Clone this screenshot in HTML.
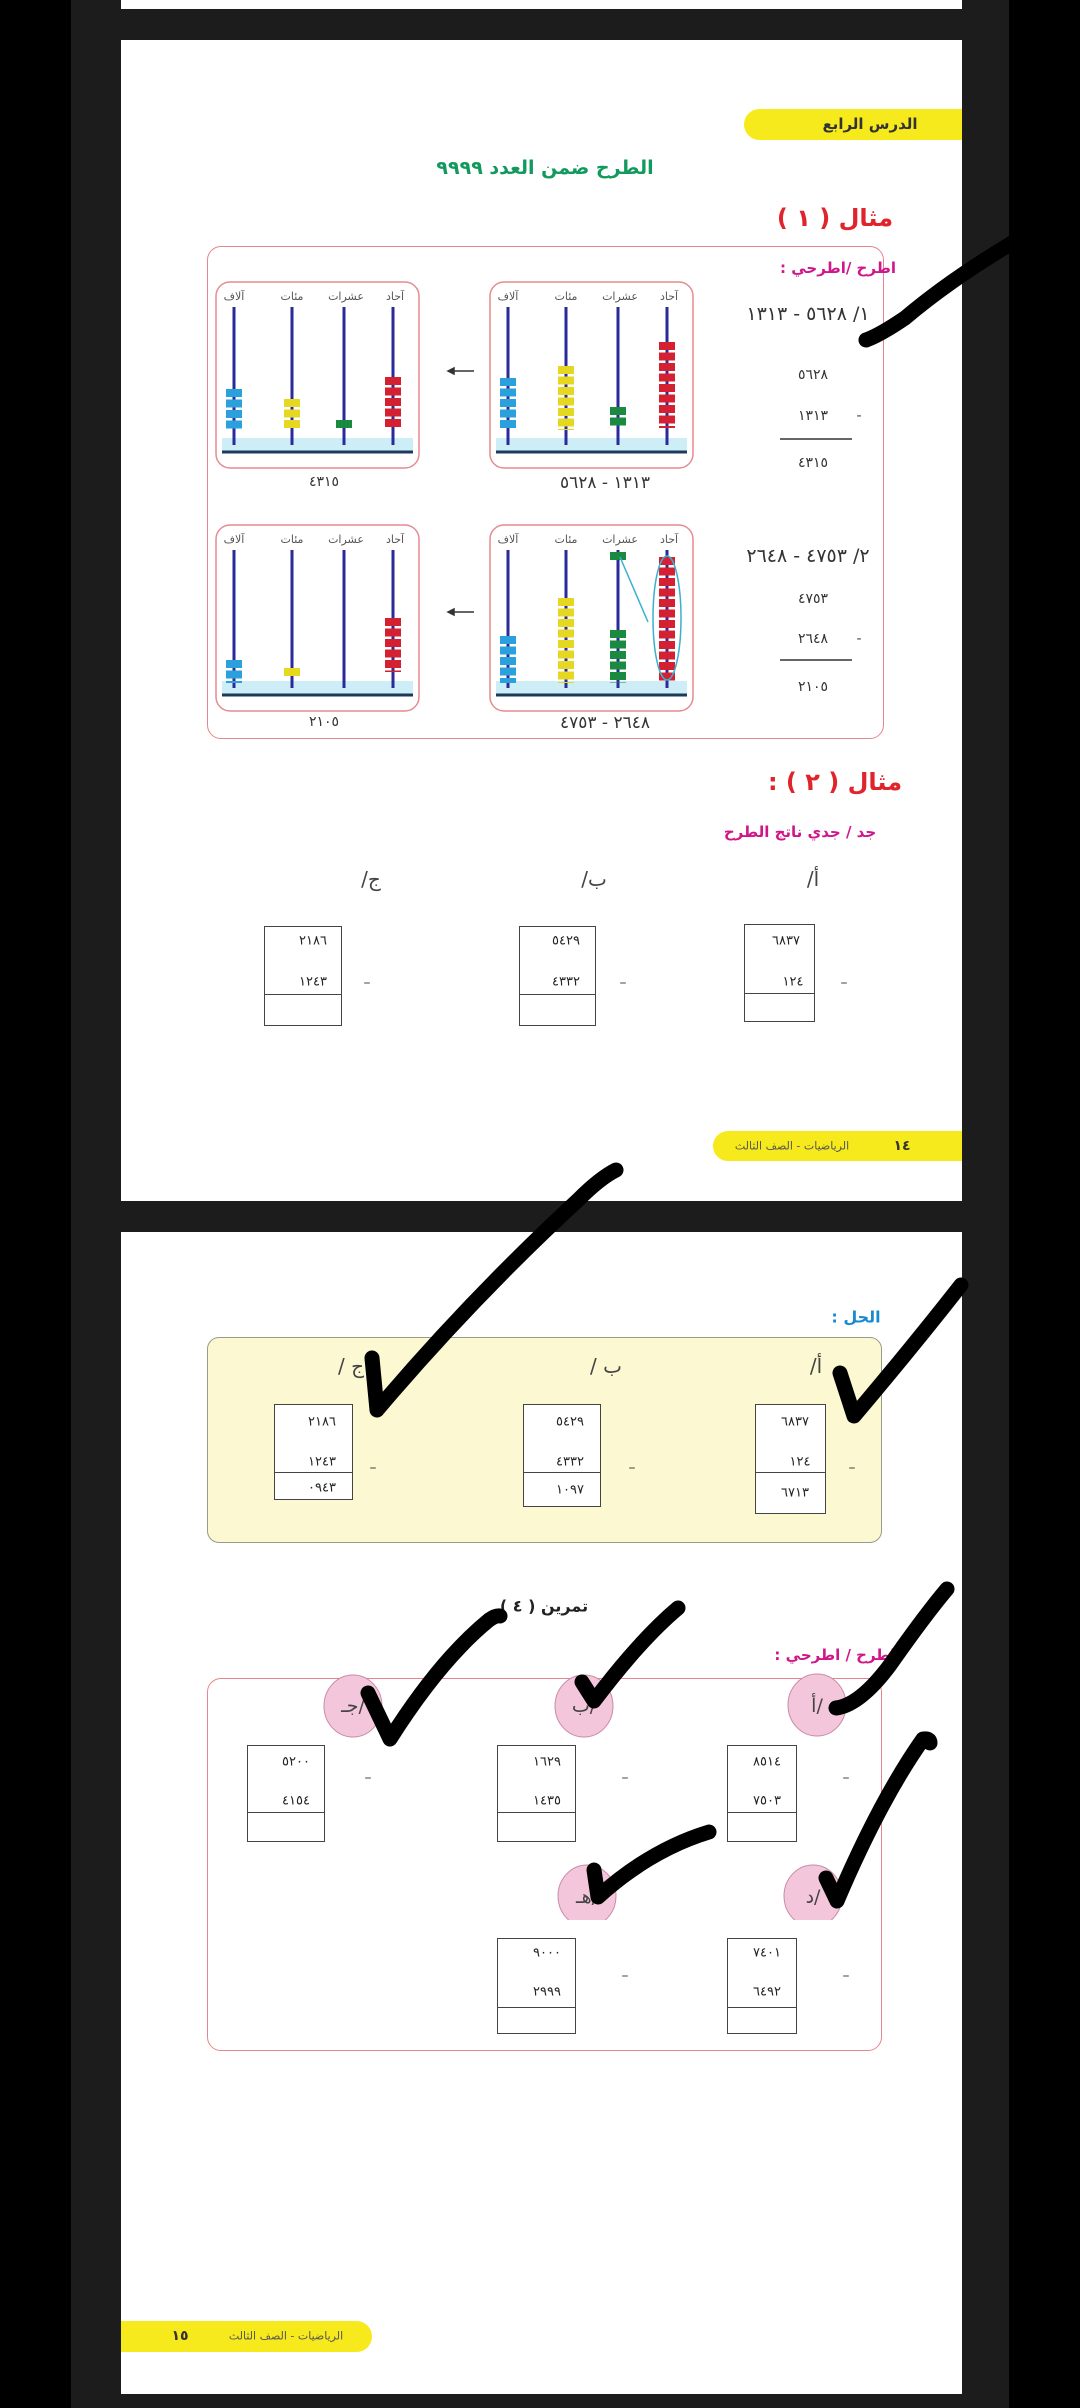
<!DOCTYPE html>
<html><head><meta charset="utf-8"><style>
*{margin:0;padding:0;box-sizing:border-box}
body{width:1080px;height:2408px;background:#000;position:relative;overflow:hidden;font-family:"DejaVu Sans","Liberation Sans",sans-serif}
.a{position:absolute}
.t{position:absolute;transform:translate(-50%,-50%);white-space:nowrap;direction:rtl}
.box{position:absolute;border:1.5px solid #444;background:#fff}
.box .s{position:absolute;left:0;right:0;border-top:1.5px solid #444}
.n{font-size:13px;color:#222}
.m{font-size:14px;color:#444}
</style></head><body>
<div class="a" style="left:71px;top:0;width:938px;height:2408px;background:#1c1c1c"></div>
<div class="a" style="left:121px;top:0;width:841px;height:9px;background:#fff"></div>
<div class="a" style="left:121px;top:40px;width:841px;height:1161px;background:#fff"></div>
<div class="a" style="left:121px;top:1232px;width:841px;height:1162px;background:#fff"></div>

<!-- page 1 -->
<div class="a" style="left:744px;top:109px;width:218px;height:31px;background:#f7ea1c;border-radius:16px 0 0 16px"></div>
<div class="t" style="left:870px;top:124px;font-size:15px;font-weight:bold;color:#333">الدرس الرابع</div>
<div class="t" style="left:545px;top:168px;font-size:19px;font-weight:bold;color:#129a5e">الطرح ضمن العدد ٩٩٩٩</div>
<div class="t" style="left:835px;top:218px;font-size:24px;font-weight:bold;color:#e0242c">مثال ( ١ )</div>
<div class="a" style="left:207px;top:246px;width:677px;height:493px;border:1.5px solid #e6868c;border-radius:14px"></div>
<div class="t" style="left:838px;top:268px;font-size:15px;font-weight:bold;color:#d0168a">اطرح /اطرحي :</div>

<svg class="a" style="left:0;top:0" width="1080" height="1200">
<defs>
<g id="frame">
<rect x="0" y="0" width="203" height="186" rx="14" fill="#fff" stroke="#e48c92" stroke-width="1.5"/>
<rect x="6" y="156" width="191" height="14" fill="#cdeef6"/>
<line x1="6" y1="170" x2="197" y2="170" stroke="#1e3a5a" stroke-width="3"/>
</g>
</defs>
<use href="#frame" x="490" y="282"/>
<use href="#frame" x="216" y="282"/>
<use href="#frame" x="490" y="525"/>
<use href="#frame" x="216" y="525"/>
<g font-size="11" fill="#555" text-anchor="middle" font-family="DejaVu Sans">
<text x="669" y="300">آحاد</text><text x="620" y="300">عشرات</text><text x="566" y="300">مئات</text><text x="508" y="300">آلاف</text>
<text x="395" y="300">آحاد</text><text x="346" y="300">عشرات</text><text x="292" y="300">مئات</text><text x="234" y="300">آلاف</text>
<text x="669" y="543">آحاد</text><text x="620" y="543">عشرات</text><text x="566" y="543">مئات</text><text x="508" y="543">آلاف</text>
<text x="395" y="543">آحاد</text><text x="346" y="543">عشرات</text><text x="292" y="543">مئات</text><text x="234" y="543">آلاف</text>
</g>
<g stroke="#2a2a9a" stroke-width="3">
<line x1="508" y1="307" x2="508" y2="445"/><line x1="566" y1="307" x2="566" y2="445"/><line x1="618" y1="307" x2="618" y2="445"/><line x1="667" y1="307" x2="667" y2="445"/>
<line x1="234" y1="307" x2="234" y2="445"/><line x1="292" y1="307" x2="292" y2="445"/><line x1="344" y1="307" x2="344" y2="445"/><line x1="393" y1="307" x2="393" y2="445"/>
<line x1="508" y1="550" x2="508" y2="688"/><line x1="566" y1="550" x2="566" y2="688"/><line x1="618" y1="550" x2="618" y2="688"/><line x1="667" y1="550" x2="667" y2="688"/>
<line x1="234" y1="550" x2="234" y2="688"/><line x1="292" y1="550" x2="292" y2="688"/><line x1="344" y1="550" x2="344" y2="688"/><line x1="393" y1="550" x2="393" y2="688"/>
</g>
<g stroke-width="16" stroke-dasharray="8 2.5">
<line x1="667" y1="342" x2="667" y2="428" stroke="#d42030"/>
<line x1="618" y1="407" x2="618" y2="428" stroke="#1a8a40"/>
<line x1="566" y1="366" x2="566" y2="430" stroke="#e6d820"/>
<line x1="508" y1="378" x2="508" y2="430" stroke="#2aa0dc"/>
<line x1="393" y1="377" x2="393" y2="428" stroke="#d42030"/>
<line x1="344" y1="420" x2="344" y2="430" stroke="#1a8a40"/>
<line x1="292" y1="399" x2="292" y2="430" stroke="#e6d820"/>
<line x1="234" y1="389" x2="234" y2="430" stroke="#2aa0dc"/>
<line x1="667" y1="557" x2="667" y2="683" stroke="#d42030"/>
<line x1="618" y1="630" x2="618" y2="683" stroke="#1a8a40"/>
<line x1="618" y1="552" x2="618" y2="562" stroke="#1a8a40"/>
<line x1="566" y1="598" x2="566" y2="683" stroke="#e6d820"/>
<line x1="508" y1="636" x2="508" y2="683" stroke="#2aa0dc"/>
<line x1="393" y1="618" x2="393" y2="672" stroke="#d42030"/>
<line x1="292" y1="668" x2="292" y2="678" stroke="#e6d820"/>
<line x1="234" y1="660" x2="234" y2="683" stroke="#2aa0dc"/>
</g>
<ellipse cx="667" cy="618" rx="14" ry="62" fill="none" stroke="#3ab0d0" stroke-width="1.5"/>
<line x1="620" y1="557" x2="648" y2="622" stroke="#3ab0d0" stroke-width="1.5"/>
<g stroke="#333" stroke-width="1.5" fill="#333">
<line x1="450" y1="371" x2="474" y2="371"/><path d="M448 371 l6 -3 v6z"/>
<line x1="450" y1="612" x2="474" y2="612"/><path d="M448 612 l6 -3 v6z"/>
<line x1="780" y1="439" x2="852" y2="439"/>
<line x1="780" y1="660" x2="852" y2="660"/>
</g>
</svg>
<div class="t" style="left:324px;top:482px;font-size:14px;color:#333">٤٣١٥</div>
<div class="t" style="left:605px;top:483px;font-size:17px;color:#333">١٣١٣ - ٥٦٢٨</div>
<div class="t" style="left:324px;top:722px;font-size:14px;color:#333">٢١٠٥</div>
<div class="t" style="left:605px;top:723px;font-size:17px;color:#333">٢٦٤٨ - ٤٧٥٣</div>
<div class="t" style="left:808px;top:314px;font-size:19px;color:#333">١/ ٥٦٢٨ - ١٣١٣</div>
<div class="t" style="left:813px;top:375px;font-size:14px;color:#333">٥٦٢٨</div>
<div class="t" style="left:813px;top:416px;font-size:14px;color:#333">١٣١٣</div>
<div class="t m" style="left:859px;top:416px">-</div>
<div class="t" style="left:813px;top:463px;font-size:14px;color:#333">٤٣١٥</div>
<div class="t" style="left:808px;top:556px;font-size:19px;color:#333">٢/ ٤٧٥٣ - ٢٦٤٨</div>
<div class="t" style="left:813px;top:599px;font-size:14px;color:#333">٤٧٥٣</div>
<div class="t" style="left:813px;top:639px;font-size:14px;color:#333">٢٦٤٨</div>
<div class="t m" style="left:859px;top:639px">-</div>
<div class="t" style="left:813px;top:687px;font-size:14px;color:#333">٢١٠٥</div>

<div class="t" style="left:835px;top:782px;font-size:24px;font-weight:bold;color:#e0242c">مثال ( ٢ ) :</div>
<div class="t" style="left:800px;top:832px;font-size:15px;font-weight:bold;color:#d0168a">جد / جدي ناتج الطرح</div>
<div class="t" style="left:813px;top:879px;font-size:20px;color:#444">أ/</div>
<div class="t" style="left:594px;top:879px;font-size:20px;color:#444">ب/</div>
<div class="t" style="left:371px;top:879px;font-size:20px;color:#444">ج/</div>
<div class="box" style="left:744px;top:924px;width:71px;height:98px"><div class="s" style="top:68px"></div></div>
<div class="box" style="left:519px;top:926px;width:77px;height:100px"><div class="s" style="top:67px"></div></div>
<div class="box" style="left:264px;top:926px;width:78px;height:100px"><div class="s" style="top:67px"></div></div>
<div class="t n" style="left:786px;top:941px">٦٨٣٧</div><div class="t n" style="left:793px;top:982px">١٢٤</div>
<div class="t n" style="left:566px;top:941px">٥٤٢٩</div><div class="t n" style="left:566px;top:982px">٤٣٣٢</div>
<div class="t n" style="left:313px;top:941px">٢١٨٦</div><div class="t n" style="left:313px;top:982px">١٢٤٣</div>
<div class="t m" style="left:844px;top:983px">–</div><div class="t m" style="left:623px;top:983px">–</div><div class="t m" style="left:367px;top:983px">–</div>

<div class="a" style="left:713px;top:1131px;width:249px;height:30px;background:#f7ea1c;border-radius:15px 0 0 15px"></div>
<div class="t" style="left:902px;top:1146px;font-size:14px;font-weight:bold;color:#333">١٤</div>
<div class="t" style="left:792px;top:1146px;font-size:11px;color:#555">الرياضيات - الصف الثالث</div>

<!-- page 2 -->
<div class="t" style="left:856px;top:1317px;font-size:16px;font-weight:bold;color:#1a8ad0">الحل :</div>
<div class="a" style="left:207px;top:1337px;width:675px;height:206px;background:#fbf8d2;border:1.5px solid #9a9a8a;border-radius:12px"></div>
<div class="t" style="left:816px;top:1366px;font-size:20px;color:#444">أ/</div>
<div class="t" style="left:606px;top:1366px;font-size:20px;color:#444">ب /</div>
<div class="t" style="left:351px;top:1366px;font-size:20px;color:#444">ج /</div>
<div class="box" style="left:755px;top:1404px;width:71px;height:110px"><div class="s" style="top:67px"></div></div>
<div class="box" style="left:523px;top:1404px;width:78px;height:103px"><div class="s" style="top:67px"></div></div>
<div class="box" style="left:274px;top:1404px;width:79px;height:96px"><div class="s" style="top:67px"></div></div>
<div class="t n" style="left:795px;top:1422px">٦٨٣٧</div><div class="t n" style="left:800px;top:1462px">١٢٤</div><div class="t n" style="left:795px;top:1493px">٦٧١٣</div>
<div class="t n" style="left:570px;top:1422px">٥٤٢٩</div><div class="t n" style="left:570px;top:1462px">٤٣٣٢</div><div class="t n" style="left:570px;top:1490px">١٠٩٧</div>
<div class="t n" style="left:322px;top:1422px">٢١٨٦</div><div class="t n" style="left:322px;top:1462px">١٢٤٣</div><div class="t n" style="left:322px;top:1488px">٠٩٤٣</div>
<div class="t m" style="left:852px;top:1468px">–</div><div class="t m" style="left:632px;top:1468px">–</div><div class="t m" style="left:373px;top:1468px">–</div>

<div class="t" style="left:544px;top:1606px;font-size:16px;font-weight:bold;color:#222">تمرين ( ٤ )</div>
<div class="t" style="left:835px;top:1655px;font-size:15px;font-weight:bold;color:#d0168a">اطرح / اطرحي :</div>
<div class="a" style="left:207px;top:1678px;width:675px;height:373px;border:1.5px solid #e6868c;border-radius:14px"></div>
<svg class="a" style="left:0;top:1600px" width="1080" height="320">
<g fill="#f4c6dc" stroke="#c88aa8" stroke-width="1">
<ellipse cx="817" cy="105" rx="29" ry="31"/><ellipse cx="584" cy="106" rx="29" ry="31"/><ellipse cx="353" cy="106" rx="29" ry="31"/>
<ellipse cx="813" cy="296" rx="29" ry="31"/><ellipse cx="587" cy="296" rx="29" ry="31"/>
</g>
<g font-size="19" fill="#444" text-anchor="middle" font-family="DejaVu Sans">
<text x="817" y="112">أ/</text><text x="584" y="112">ب/</text><text x="353" y="112">جـ/</text>
<text x="813" y="303">د/</text><text x="587" y="303">هـ/</text>
</g>
</svg>
<div class="box" style="left:727px;top:1745px;width:70px;height:97px"><div class="s" style="top:66px"></div></div>
<div class="box" style="left:497px;top:1745px;width:79px;height:97px"><div class="s" style="top:66px"></div></div>
<div class="box" style="left:247px;top:1745px;width:78px;height:97px"><div class="s" style="top:66px"></div></div>
<div class="t n" style="left:767px;top:1762px">٨٥١٤</div><div class="t n" style="left:767px;top:1801px">٧٥٠٣</div>
<div class="t n" style="left:547px;top:1762px">١٦٢٩</div><div class="t n" style="left:547px;top:1801px">١٤٣٥</div>
<div class="t n" style="left:296px;top:1762px">٥٢٠٠</div><div class="t n" style="left:296px;top:1801px">٤١٥٤</div>
<div class="t m" style="left:846px;top:1778px">–</div><div class="t m" style="left:625px;top:1778px">–</div><div class="t m" style="left:368px;top:1778px">–</div>
<div class="box" style="left:727px;top:1938px;width:70px;height:96px"><div class="s" style="top:68px"></div></div>
<div class="box" style="left:497px;top:1938px;width:79px;height:96px"><div class="s" style="top:68px"></div></div>
<div class="t n" style="left:767px;top:1953px">٧٤٠١</div><div class="t n" style="left:767px;top:1992px">٦٤٩٢</div>
<div class="t n" style="left:547px;top:1953px">٩٠٠٠</div><div class="t n" style="left:547px;top:1992px">٢٩٩٩</div>
<div class="t m" style="left:846px;top:1976px">–</div><div class="t m" style="left:625px;top:1976px">–</div>

<div class="a" style="left:121px;top:2321px;width:251px;height:31px;background:#f7ea1c;border-radius:0 16px 16px 0"></div>
<div class="t" style="left:180px;top:2336px;font-size:14px;font-weight:bold;color:#333">١٥</div>
<div class="t" style="left:286px;top:2336px;font-size:11px;color:#555">الرياضيات - الصف الثالث</div>

<!-- checkmarks -->
<svg class="a" style="left:0;top:0" width="1080" height="2408">
<g fill="none" stroke="#000" stroke-width="15" stroke-linecap="round" stroke-linejoin="round">
<path d="M1012 243 Q950 280 905 318 Q880 335 866 340"/>
<path d="M372 1358 L377 1410 Q470 1300 578 1200 Q600 1178 616 1170"/>
<path d="M840 1373 L854 1416 Q910 1350 961 1285"/>
<path d="M368 1693 L390 1739 Q440 1660 489 1620 Q496 1615 500 1616"/>
<path d="M582 1682 L594 1701 Q640 1640 678 1608"/>
<path d="M836 1708 Q860 1705 890 1665 Q925 1615 947 1589"/>
<path d="M826 1878 L837 1901 Q880 1800 923 1739 Q930 1738 930 1743"/>
<path d="M594 1870 L598 1897 Q650 1850 709 1832"/>
</g>
</svg>
</body></html>
